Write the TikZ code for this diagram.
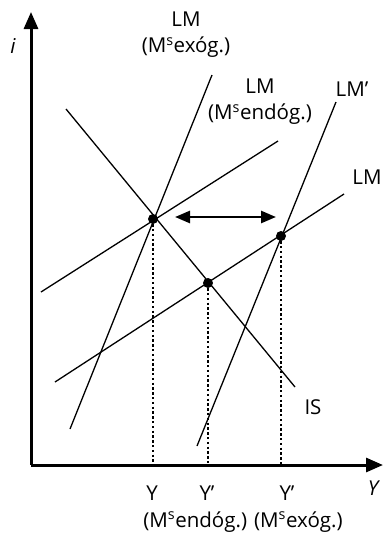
\documentclass[tikz,border=0pt]{standalone}
\usepackage{fontspec}
\setmainfont{Open Sans}
\usetikzlibrary{arrows.meta}

\begin{document}
\begin{tikzpicture}[
    x=1pt, y=-1pt,
    curve/.style={line width=1.3pt},
    axis/.style={line width=3pt, -{Triangle[length=17pt, width=14pt]}},
    movearrow/.style={line width=2.6pt, {Triangle[length=15pt, width=12pt]}-{Triangle[length=15pt, width=12pt]}},
    guide/.style={line width=1.3pt, dash pattern=on 2.4pt off 2.4pt},
    dot/.style={circle, fill, inner sep=0pt, minimum size=10pt},
    lbl/.style={font=\fontsize{20.5}{26}\selectfont, inner sep=0pt, align=center}
]
\useasboundingbox (0,0) rectangle (384,536);

% ejes
\coordinate (O) at (31,465);
\coordinate (itop) at (31,12);
\coordinate (Yend) at (383,465);
\draw[axis] (O) -- (itop);
\draw[axis] (O) -- (Yend);
\node[lbl, font=\fontsize{20.5}{26}\selectfont\itshape] (ilbl) at (13,46) {i};
\node[lbl, font=\fontsize{20.5}{26}\selectfont\itshape] (Ylbl) at (373,488) {Y};

% equilibrios
\node[dot] (E0) at (153,219) {};
\node[dot] (E1) at (208,283) {};
\node[dot] (E2) at (281,236) {};

% IS
\coordinate (ISa) at (66,109);
\coordinate (ISb) at (295,387);
\draw[curve] (ISa) -- (ISb);
\node[lbl] (IS) at (313,407) {IS};

% LM con oferta exogena
\coordinate (LMxa) at (70,429);
\coordinate (LMxb) at (212,75);
\draw[curve] (LMxa) -- (LMxb);
\node[lbl] (LMx) at (186,35) {LM\\(M\textsuperscript{s}exóg.)};

% LM con oferta endogena
\coordinate (LMna) at (41,292);
\coordinate (LMnb) at (278,141);
\draw[curve] (LMna) -- (LMnb);
\node[lbl] (LMn) at (260,102) {LM\\(M\textsuperscript{s}endóg.)};

% LM'
\coordinate (LMpa) at (197,446);
\coordinate (LMpb) at (336,102);
\draw[curve] (LMpa) -- (LMpb);
\node[lbl] (LMp) at (352,89) {LM’};

% LM desplazada
\coordinate (LMda) at (55,382);
\coordinate (LMdb) at (344,194);
\draw[curve] (LMda) -- (LMdb);
\node[lbl] (LMd) at (367,177) {LM};

% lineas de referencia
\coordinate (Y0) at (153,465);
\coordinate (Y1) at (208,465);
\coordinate (Y2) at (281,465);
\draw[guide] (E0) -- (Y0);
\draw[guide] (E1) -- (Y1);
\draw[guide] (E2) -- (Y2);
\node[lbl] (Y0lbl) at (152,493) {Y};
\node[lbl] (Y1lbl) at (207,493) {Y’};
\node[lbl] (Y2lbl) at (287,493) {Y’};
\node[lbl] (Mlbl) at (243,522) {(M\textsuperscript{s}endóg.) (M\textsuperscript{s}exóg.)};

% desplazamiento
\coordinate (Sa) at (175,217);
\coordinate (Sb) at (276,217);
\draw[movearrow] (Sa) -- (Sb);
\end{tikzpicture}
\end{document}
